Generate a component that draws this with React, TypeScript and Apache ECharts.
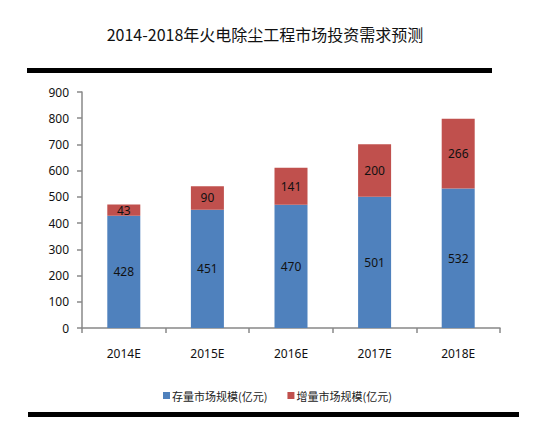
import React, { useEffect, useRef } from "react";
import * as echarts from "echarts";

const categories = ["2014E", "2015E", "2016E", "2017E", "2018E"];
const stockValues = [428, 451, 470, 501, 532];
const incrementValues = [43, 90, 141, 200, 266];
const seriesNames = ["存量市场规模(亿元)", "增量市场规模(亿元)"];
const titleText = "2014-2018年火电除尘工程市场投资需求预测";

export default function App() {
  const ref = useRef<HTMLDivElement>(null);
  useEffect(() => {
    document.body.style.margin = "0";
    if (!ref.current) return;
    const chart = echarts.init(ref.current, undefined, { renderer: "svg" });
    const labelStyle = {
      show: true,
      position: "inside",
      color: "#111",
      fontSize: 12,
      fontFamily: "Noto Sans",
    };
    chart.setOption({
      animation: false,
      backgroundColor: "#fff",
      title: {
        text: titleText,
        left: 260,
        top: 21,
        textAlign: "center",
        textStyle: {
          fontFamily: "Noto Sans CJK SC",
          fontSize: 16,
          fontWeight: "normal",
          color: "#111",
        },
      },
      graphic: [
        { type: "rect", shape: { x: 27, y: 68, width: 465, height: 5 }, style: { fill: "#000" } },
        { type: "rect", shape: { x: 28, y: 412, width: 491, height: 5 }, style: { fill: "#000" } },
      ],
      legend: {
        left: 158,
        top: 385,
        itemWidth: 7,
        itemHeight: 7,
        itemGap: 20,
        icon: "rect",
        textStyle: { fontFamily: "Noto Sans CJK SC", fontSize: 11, color: "#222", padding: [0, 0, 0, -3] },
        data: seriesNames,
      },
      grid: { left: 82, right: 51, top: 92, bottom: 116 },
      xAxis: {
        type: "category",
        data: categories,
        axisLine: { lineStyle: { color: "#888", width: 1.5 } },
        axisTick: { show: true, length: 5, lineStyle: { color: "#888", width: 1.5 } },
        axisLabel: { margin: 19, color: "#111", fontSize: 12, fontFamily: "Noto Sans" },
      },
      yAxis: {
        type: "value",
        min: 0,
        max: 900,
        interval: 100,
        splitLine: { show: false },
        axisLine: { show: true, lineStyle: { color: "#888", width: 1.5 } },
        axisTick: { show: true, length: 5, lineStyle: { color: "#888", width: 1.5 } },
        axisLabel: { margin: 13, color: "#111", fontSize: 12, fontFamily: "Noto Sans" },
      },
      series: [
        {
          name: seriesNames[0],
          type: "bar",
          stack: "total",
          barWidth: 33,
          data: stockValues,
          itemStyle: { color: "#4F81BD" },
          label: labelStyle,
        },
        {
          name: seriesNames[1],
          type: "bar",
          stack: "total",
          barWidth: 33,
          data: incrementValues,
          itemStyle: { color: "#C0504D" },
          label: labelStyle,
        },
      ],
    });
    return () => chart.dispose();
  }, []);
  return <div ref={ref} style={{ width: 551, height: 444 }} />;
}
